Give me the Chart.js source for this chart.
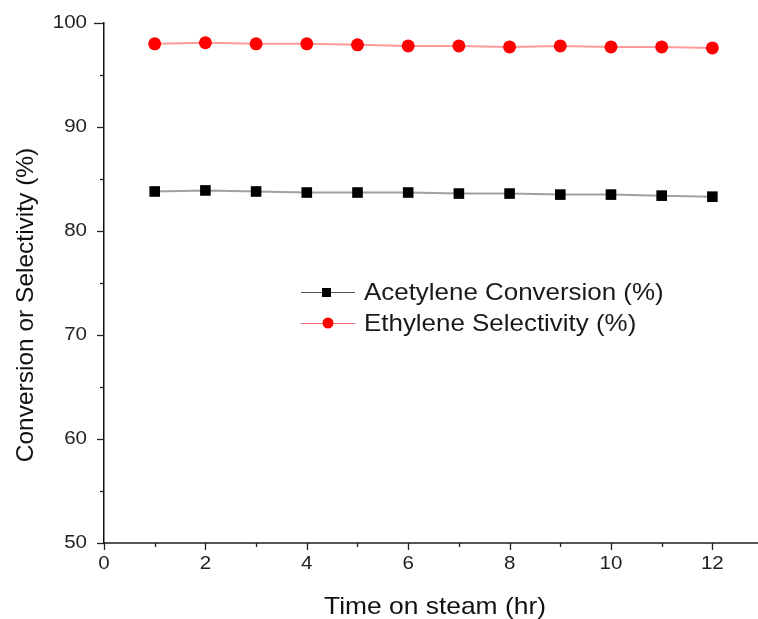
<!DOCTYPE html>
<html>
<head>
<meta charset="utf-8">
<script src="https://cdn.jsdelivr.net/npm/chart.js@4.4.1/dist/chart.umd.min.js"></script>
<style>
  html, body { margin: 0; padding: 0; background: #fff; }
  #wrap { width: 758px; height: 619px; position: relative; }
</style>
</head>
<body>
<div id="wrap"><canvas id="c" width="758" height="619"></canvas></div>
<script>
// Time on stream (hours)
const hours = [1, 2, 3, 4, 5, 6, 7, 8, 9, 10, 11, 12];
// Acetylene conversion (%)
const acetyleneConversion = [83.8, 83.9, 83.8, 83.7, 83.7, 83.7, 83.6, 83.6, 83.5, 83.5, 83.4, 83.3];
// Ethylene selectivity (%)
const ethyleneSelectivity = [98.0, 98.1, 98.0, 98.0, 97.9, 97.8, 97.8, 97.7, 97.8, 97.7, 97.7, 97.6];
// Axis tick labels
const xTickValues = [0, 2, 4, 6, 8, 10, 12];
const yTickValues = [50, 60, 70, 80, 90, 100];
const seriesNames = ['Acetylene Conversion (%)', 'Ethylene Selectivity (%)'];
const xTitle = 'Time on steam (hr)';
const yTitle = 'Conversion or Selectivity (%)';

const FONT = '"Liberation Sans", Arial, sans-serif';
const STRETCH = 1.08;   // slightly wide lettering

const toPoints = (xs, ys) => xs.map((x, i) => ({ x: x, y: ys[i] }));

// draws text with a small horizontal stretch
function wideText(ctx, text, x, y, align, stretch) {
  ctx.save();
  ctx.translate(x, y);
  ctx.scale(stretch || STRETCH, 1);
  ctx.textAlign = align;
  ctx.fillText(text, 0, 0);
  ctx.restore();
}

// Outward tick marks (major + minor), tick labels, axis titles and the inset legend
const decorations = {
  id: 'decorations',
  afterDraw(chart) {
    const ctx = chart.ctx;
    const xs = chart.scales.x, ys = chart.scales.y;
    const ca = chart.chartArea;
    ctx.save();
    ctx.strokeStyle = '#222';
    ctx.lineWidth = 1.3;
    // y ticks (left, outward)
    for (let v = 50; v <= 100; v += 5) {
      const py = Math.round(ys.getPixelForValue(v)) + 0.5;
      const len = v === 100 ? 10 : ((v % 10 === 0) ? 7 : 4);
      ctx.beginPath();
      ctx.moveTo(ca.left, py);
      ctx.lineTo(ca.left - len, py);
      ctx.stroke();
    }
    // x ticks (down, outward)
    for (let v = 0; v <= 12; v += 1) {
      const px = Math.round(xs.getPixelForValue(v)) + 0.5;
      const len = (v % 2 === 0) ? 7 : 4;
      ctx.beginPath();
      ctx.moveTo(px, ca.bottom);
      ctx.lineTo(px, ca.bottom + len);
      ctx.stroke();
    }
    // tick labels
    ctx.fillStyle = '#222';
    ctx.font = '19px ' + FONT;
    ctx.textBaseline = 'middle';
    yTickValues.forEach(v => wideText(ctx, String(v), ca.left - 17, ys.getPixelForValue(v), 'right'));
    xTickValues.forEach(v => wideText(ctx, String(v), xs.getPixelForValue(v), ca.bottom + 21, 'center'));

    // axis titles
    ctx.fillStyle = '#111';
    ctx.font = '24px ' + FONT;
    wideText(ctx, xTitle, 435, 607, 'center', 1.1);
    ctx.save();
    ctx.translate(26, 305);
    ctx.rotate(-Math.PI / 2);
    ctx.textAlign = 'center';
    ctx.font = '24.5px ' + FONT;
    ctx.fillText(yTitle, 0, 0);
    ctx.restore();

    // legend
    const rows = [
      { name: seriesNames[0], line: '#555', marker: 'square', color: '#000', y: 292 },
      { name: seriesNames[1], line: '#ff7070', marker: 'circle', color: '#ff0000', y: 323 }
    ];
    ctx.font = '24px ' + FONT;
    rows.forEach(r => {
      ctx.strokeStyle = r.line;
      ctx.lineWidth = 1.2;
      ctx.beginPath();
      ctx.moveTo(301, r.y + 0.5);
      ctx.lineTo(355, r.y + 0.5);
      ctx.stroke();
      ctx.fillStyle = r.color;
      if (r.marker === 'square') {
        ctx.fillRect(322, r.y - 4, 9, 9);
      } else {
        ctx.beginPath();
        ctx.arc(328, r.y, 5.5, 0, Math.PI * 2);
        ctx.fill();
      }
      ctx.fillStyle = '#1a1a1a';
      wideText(ctx, r.name, 364, r.y + 1, 'left');
    });
    ctx.restore();
  }
};

new Chart(document.getElementById('c'), {
  type: 'scatter',
  data: {
    datasets: [
      {
        label: seriesNames[0],
        data: toPoints(hours, acetyleneConversion),
        showLine: true,
        borderColor: '#a0a0a0',
        borderWidth: 2,
        backgroundColor: '#000',
        pointStyle: 'rect',
        pointRadius: 7.5,
        pointBorderWidth: 0,
        pointBorderColor: '#000'
      },
      {
        label: seriesNames[1],
        data: toPoints(hours, ethyleneSelectivity),
        showLine: true,
        borderColor: '#ff9a9a',
        borderWidth: 2,
        backgroundColor: '#ff0000',
        pointStyle: 'circle',
        pointRadius: 6.5,
        pointBorderWidth: 0,
        pointBorderColor: '#ff0000'
      }
    ]
  },
  options: {
    responsive: false,
    animation: false,
    layout: { autoPadding: false, padding: { top: 23, right: 0, left: 0, bottom: 0 } },
    plugins: { legend: { display: false }, tooltip: { enabled: false } },
    scales: {
      x: {
        type: 'linear',
        min: 0,
        max: 12.9,
        afterBuildTicks: s => { s.ticks = xTickValues.map(v => ({ value: v })); },
        afterFit: s => { s.height = 76; s.paddingLeft = 0; s.paddingRight = 0; },
        grid: { display: false, drawTicks: false },
        border: { display: true, color: '#555', width: 2 },
        ticks: { display: false }
      },
      y: {
        type: 'linear',
        min: 50,
        max: 100,
        afterBuildTicks: s => { s.ticks = yTickValues.map(v => ({ value: v })); },
        afterFit: s => { s.width = 104; s.paddingTop = 0; s.paddingBottom = 0; },
        grid: { display: false, drawTicks: false },
        border: { display: true, color: '#111', width: 1.5 },
        ticks: { display: false }
      }
    }
  },
  plugins: [decorations]
});
</script>
</body>
</html>
